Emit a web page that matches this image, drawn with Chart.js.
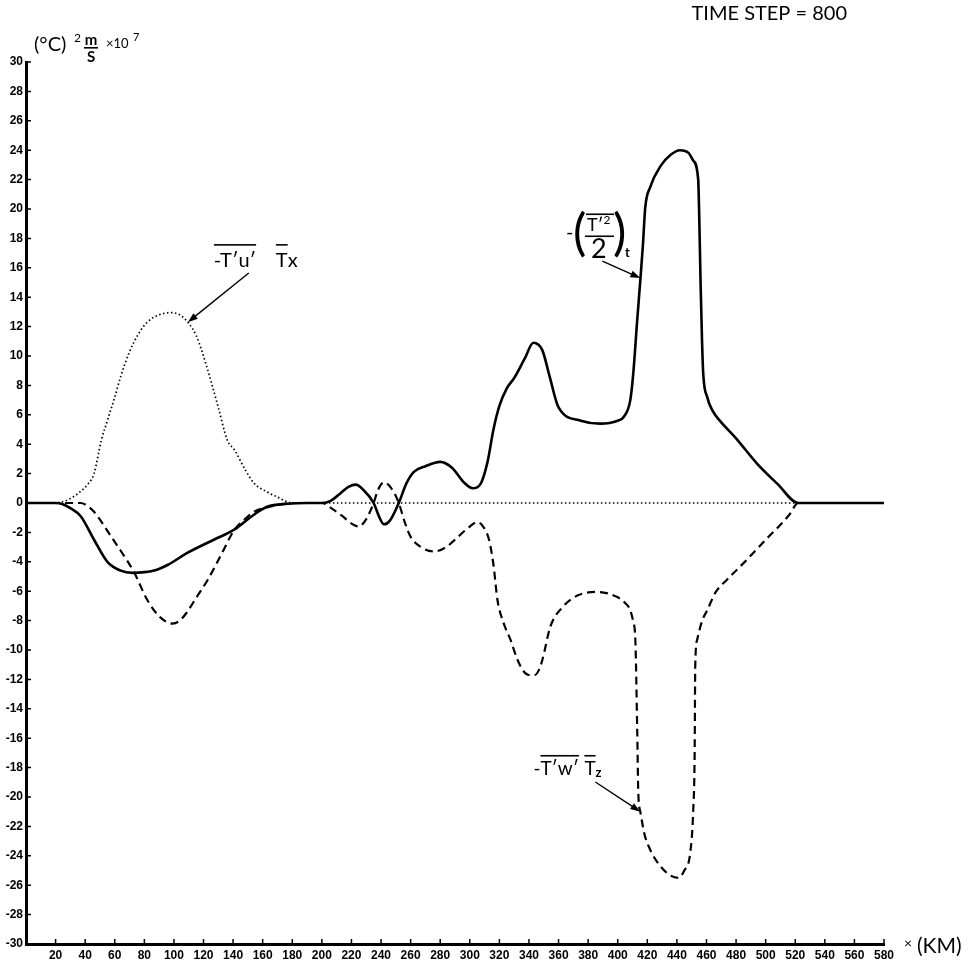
<!DOCTYPE html>
<html>
<head>
<meta charset="utf-8">
<script src="https://cdn.jsdelivr.net/npm/chart.js@4.4.1/dist/chart.umd.min.js"></script>
<style>
  body { margin: 0; background: #fff; }
  canvas { display: block; }
</style>
</head>
<body>
<canvas id="budgetChart" width="974" height="969"></canvas>
<script>
// tick values
var xTickValues = [20, 40, 60, 80, 100, 120, 140, 160, 180, 200, 220, 240, 260, 280, 300,
    320, 340, 360, 380, 400, 420, 440, 460, 480, 500, 520, 540, 560, 580];
var yTickValues = [-30, -28, -26, -24, -22, -20, -18, -16, -14, -12, -10, -8, -6, -4, -2, 0,
    2, 4, 6, 8, 10, 12, 14, 16, 18, 20, 22, 24, 26, 28, 30];

// -(T'^2/2)_t  (solid)
var tendencyKm = [0, 20, 24, 30, 37, 46, 55, 64, 72, 80, 88, 96, 109, 127, 141, 154, 163, 177, 190,
    200, 206, 213, 218, 223, 228, 235, 239, 242, 246, 252, 257, 262, 270, 280, 288, 296, 302,
    307, 312, 316, 320, 325, 330, 337, 343, 349, 354, 360, 375, 388, 400, 404, 408.5, 410.5,
    413, 415.3, 417, 418.6, 422, 428.8, 436, 442, 448, 451, 454.4, 455.2, 456, 457, 457.8,
    460.5, 464, 469, 480, 494, 508, 522, 540, 560, 580];
var tendencyVal = [0, 0, -0.05, -0.35, -0.9, -2.5, -4.0, -4.6, -4.75, -4.7, -4.55, -4.2, -3.4, -2.5,
    -1.8, -0.8, -0.25, -0.05, 0,
    0, 0.15, 0.7, 1.1, 1.25, 0.9, 0, -1.0, -1.45, -1.2, 0, 1.3, 2.1, 2.5, 2.8, 2.4, 1.4, 1.0,
    1.25, 2.8, 5.0, 6.6, 7.8, 8.5, 9.8, 10.9, 10.4, 8.6, 6.5, 5.6, 5.4, 5.6, 5.85, 7.0, 8.8,
    12.2, 15.2, 17.5, 20.1, 21.5, 22.9, 23.7, 24.0, 23.8, 23.3, 22.0, 19, 15, 11, 8.8,
    7.2, 6.3, 5.6, 4.4, 2.7, 1.3, 0, 0, 0, 0];

// -T'w' Tz  (dashed)
var verticalKm = [0, 37, 40, 46, 57, 65, 73, 82, 91, 99, 104, 109, 116, 123, 132, 141, 148, 154, 163,
    172, 180, 200, 207, 214, 220, 225, 230, 235, 238, 242, 247, 252, 256, 260, 267, 276, 284,
    292, 300, 305, 309, 313, 316, 318.7, 323, 327.5, 332, 336, 340, 344, 347, 349, 354.5,
    362.6, 372.7, 386, 399.7, 405, 408.5, 410.5, 411.9, 413.2, 413.9, 415.3, 418, 422, 428,
    435, 441, 445, 449, 451, 452, 452.4, 453.7, 457.1, 460.5, 466, 474, 482, 491.6, 500,
    509.8, 516, 522, 540, 560, 580];
var verticalVal = [0, 0, -0.1, -0.6, -2.2, -3.4, -4.7, -6.6, -7.8, -8.2, -8.0, -7.4, -6.3, -5.2, -3.5,
    -1.8, -1.1, -0.6, -0.3,
    -0.1, 0, 0, -0.4, -0.9, -1.4, -1.6, -1.1, 0, 0.9, 1.4, 1.0, 0, -1.3, -2.3, -3.0, -3.3, -3.0,
    -2.3, -1.6, -1.3, -1.6, -2.5, -4.2, -6.6, -8.2, -9.3, -10.6, -11.4, -11.7, -11.7, -11.3,
    -10.7, -8.4,
    -7.1, -6.3, -6.05, -6.4, -6.8, -7.3, -8.1, -9.3, -15.6, -19.7, -21.0, -22.5, -23.6, -24.6,
    -25.3, -25.5, -25.0, -23.8, -21.0, -17.0, -11.1, -9.3, -8.0, -7.3, -6.1, -5.2, -4.4, -3.4, -2.5,
    -1.5, -0.8, 0, 0, 0, 0];

// -T'u' Tx  (dotted)
var horizontalKm = [0, 18, 24, 30, 37, 42, 46, 51, 55, 60, 64, 70, 76, 82, 90, 98, 104, 109.4, 115,
    119, 125, 130, 136, 141, 148, 154, 163, 170, 177, 185, 300, 400, 522, 580];
var horizontalVal = [0, 0, 0.07, 0.3, 0.8, 1.3, 2.0, 4.3, 5.6, 7.2, 8.6, 10.3, 11.5, 12.3, 12.8,
    12.95, 12.8, 12.3, 11.4, 10.3, 8.3, 6.5, 4.3, 3.6, 2.3, 1.36, 0.75, 0.4, 0.07, 0, 0, 0, 0, 0];

function toPoints(xs, ys) {
    var pts = [];
    for (var i = 0; i < xs.length; i++) {
        pts.push({ x: xs[i], y: ys[i] });
    }
    return pts;
}

var labelFont = 'Lato, "Open Sans", sans-serif';

function overlineText(ctx, str, x, y, size, barTop) {
    ctx.font = size + 'px ' + labelFont;
    var w = ctx.measureText(str).width;
    ctx.fillText(str, x, y);
    if (barTop) {
        ctx.fillRect(x, y - barTop, w, 1.6);
    }
    return w;
}

function arrow(ctx, x1, y1, x2, y2) {
    var a = Math.atan2(y2 - y1, x2 - x1);
    ctx.lineWidth = 1.4;
    ctx.beginPath();
    ctx.moveTo(x1, y1);
    ctx.lineTo(x2 - 6 * Math.cos(a), y2 - 6 * Math.sin(a));
    ctx.stroke();
    ctx.beginPath();
    ctx.moveTo(x2, y2);
    ctx.lineTo(x2 - 10 * Math.cos(a) + 3.5 * Math.sin(a), y2 - 10 * Math.sin(a) - 3.5 * Math.cos(a));
    ctx.lineTo(x2 - 10 * Math.cos(a) - 3.5 * Math.sin(a), y2 - 10 * Math.sin(a) + 3.5 * Math.cos(a));
    ctx.closePath();
    ctx.fill();
}

var annotations = {
    id: 'annotations',
    afterDraw: function (chart) {
        var ctx = chart.ctx;
        var x = chart.scales.x;
        var y = chart.scales.y;
        var area = chart.chartArea;
        ctx.save();
        ctx.fillStyle = '#000';
        ctx.strokeStyle = '#000';
        ctx.textAlign = 'left';
        ctx.textBaseline = 'alphabetic';

        // inward tick marks
        ctx.lineWidth = 1.5;
        ctx.beginPath();
        y.ticks.forEach(function (t) {
            var py = y.getPixelForValue(t.value);
            ctx.moveTo(area.left, py);
            ctx.lineTo(area.left + 5, py);
        });
        x.ticks.forEach(function (t) {
            var px = x.getPixelForValue(t.value);
            ctx.moveTo(px, area.bottom);
            ctx.lineTo(px, area.bottom - 5);
        });
        ctx.stroke();

        // -T'u' Tx
        var ax = x.getPixelForValue(127), ay = y.getPixelForValue(16.05);
        overlineText(ctx, "-T\u2032u\u2032", ax, ay, 20, 23);
        var tw = overlineText(ctx, 'T', ax + 62, ay, 20, 23);
        overlineText(ctx, 'x', ax + 62 + tw, ay, 20, 0);
        arrow(ctx, x.getPixelForValue(150.6), y.getPixelForValue(15.65),
            x.getPixelForValue(109.4), y.getPixelForValue(12.3));

        // -(T'^2 / 2)_t
        var bx = x.getPixelForValue(365), by = y.getPixelForValue(18.2);
        overlineText(ctx, '-', bx, by + 4, 20, 0);
        ctx.font = '50px ' + labelFont;
        ctx.fillText('(', bx + 7, by + 15);
        var nw = overlineText(ctx, "T\u2032", bx + 21, by - 4, 18, 0);
        ctx.font = '12px ' + labelFont;
        ctx.fillText('2', bx + 21 + nw, by - 11);
        ctx.fillRect(bx + 20, by - 22, 28, 1.6);
        ctx.fillRect(bx + 19, by, 29, 1.6);
        ctx.font = '27px ' + labelFont;
        ctx.fillText('2', bx + 25, by + 23);
        ctx.font = '50px ' + labelFont;
        ctx.fillText(')', bx + 47, by + 15);
        ctx.font = 'bold 13px ' + labelFont;
        ctx.fillText('t', bx + 59, by + 22);
        arrow(ctx, x.getPixelForValue(389.6), y.getPixelForValue(16.46),
            x.getPixelForValue(415.3), y.getPixelForValue(15.3));

        // -T'w' Tz
        var cx = x.getPixelForValue(343), cy = y.getPixelForValue(-18.5);
        overlineText(ctx, '-', cx, cy, 19, 0);
        overlineText(ctx, "T\u2032w\u2032", cx + 7, cy, 19, 20);
        var zw = overlineText(ctx, 'T', cx + 51, cy, 19, 20);
        ctx.font = 'bold 13px ' + labelFont;
        ctx.fillText('z', cx + 51 + zw, cy + 2);
        arrow(ctx, x.getPixelForValue(384.9), y.getPixelForValue(-18.98),
            x.getPixelForValue(415.3), y.getPixelForValue(-21.0));

        // time step
        ctx.font = '20px ' + labelFont;
        ctx.textAlign = 'right';
        ctx.fillText('TIME STEP = 800', 847, 20);
        ctx.textAlign = 'left';

        // y units
        ctx.font = '20px ' + labelFont;
        ctx.fillText('(\u00B0C)', 34, 51);
        ctx.font = '12px ' + labelFont;
        ctx.fillText('2', 74, 42);
        ctx.font = 'bold 15px ' + labelFont;
        ctx.textAlign = 'center';
        ctx.fillText('m', 91, 45);
        ctx.fillRect(84, 47, 14, 1.6);
        ctx.fillText('S', 91, 62);
        ctx.textAlign = 'left';
        ctx.font = '13px ' + labelFont;
        ctx.fillText('\u00D710', 106, 48);
        ctx.font = '11px ' + labelFont;
        ctx.fillText('7', 133, 41);

        // x units
        ctx.font = '14px ' + labelFont;
        ctx.fillText('\u00D7', 904, 948);
        ctx.font = '21px ' + labelFont;
        ctx.fillText('(KM)', 917, 953);
        ctx.restore();
    }
};

function drawChart() {
    var ctx = document.getElementById('budgetChart').getContext('2d');

    var budgetChart = new Chart(ctx, {
        type: 'line',
        data: {
            datasets: [{
                label: "-(T'2/2)t",
                data: toPoints(tendencyKm, tendencyVal),
                borderColor: '#000',
                borderWidth: 2.6,
                order: 0
            }, {
                label: "-T'w' Tz",
                data: toPoints(verticalKm, verticalVal),
                borderColor: '#000',
                borderWidth: 2.2,
                borderDash: [8, 5],
                order: 1
            }, {
                label: "-T'u' Tx",
                data: toPoints(horizontalKm, horizontalVal),
                borderColor: '#000',
                borderWidth: 1.7,
                borderDash: [1.5, 2.5],
                order: 2
            }]
        },
        options: {
            responsive: false,
            animation: false,
            layout: { padding: { top: 62, right: 90, left: 0, bottom: 0 } },
            elements: {
                point: { radius: 0 },
                line: { cubicInterpolationMode: 'monotone', fill: false }
            },
            plugins: {
                legend: { display: false },
                tooltip: { enabled: false }
            },
            scales: {
                x: {
                    type: 'linear',
                    min: 0,
                    max: 580,
                    afterBuildTicks: function (scale) {
                        scale.ticks = xTickValues.map(function (v) { return { value: v }; });
                    },
                    afterFit: function (scale) { scale.height = 25; },
                    grid: { display: false, drawTicks: false },
                    border: { display: true, color: '#000', width: 3 },
                    ticks: {
                        autoSkip: false,
                        maxRotation: 0,
                        padding: 4,
                        color: '#000',
                        font: { family: 'Liberation Sans', size: 12, weight: 'bold' }
                    }
                },
                y: {
                    min: -30,
                    max: 30,
                    afterBuildTicks: function (scale) {
                        scale.ticks = yTickValues.map(function (v) { return { value: v }; });
                    },
                    afterFit: function (scale) { scale.width = 26; },
                    grid: { display: false, drawTicks: false },
                    border: { display: true, color: '#000', width: 3 },
                    ticks: {
                        autoSkip: false,
                        padding: 3,
                        color: '#000',
                        font: { family: 'Liberation Sans', size: 12, weight: 'bold' }
                    }
                }
            }
        },
        plugins: [annotations]
    });
}

drawChart();
</script>
</body>
</html>
